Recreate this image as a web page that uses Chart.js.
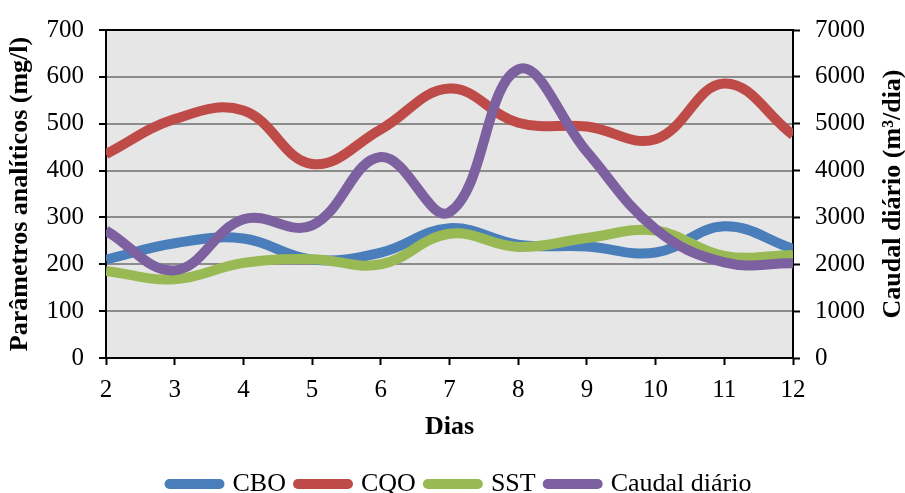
<!DOCTYPE html>
<html>
<head>
<meta charset="utf-8">
<script src="https://cdn.jsdelivr.net/npm/chart.js@4/dist/chart.umd.min.js"></script>
<style>
html,body{margin:0;padding:0;background:#fff;}
#wrap{width:905px;height:493px;position:relative;}
</style>
</head>
<body>
<div id="wrap"><canvas id="c" width="905" height="493"></canvas></div>
<script>
const dias = [2, 3, 4, 5, 6, 7, 8, 9, 10, 11, 12];
const cbo = [210, 245, 255, 210, 225, 277, 242, 238, 225, 281, 233];
const cqo = [435, 510, 528, 414, 488, 575, 502, 494, 467, 586, 476];
const sst = [186, 168, 203, 211, 200, 265, 237, 256, 272, 218, 220];
const caudal = [2720, 1870, 2960, 2830, 4290, 3110, 6160, 4400, 2750, 2040, 2020];
const leftTicks = [0, 100, 200, 300, 400, 500, 600, 700];
const rightTicks = [0, 1000, 2000, 3000, 4000, 5000, 6000, 7000];
const seriesNames = ['CBO', 'CQO', 'SST', 'Caudal diário'];
const seriesColors = ['#4A7EBB', '#BE4B48', '#98B954', '#7D60A0'];

const FONT = "'Liberation Serif', 'Times New Roman', serif";

function pts(arr){ return dias.map((d,i)=>({x:d, y:arr[i]})); }

const bgPlugin = {
  id: 'bg',
  afterUpdate(chart){
    if (chart.legend) { chart.legend.left += 8; chart.legend.right += 8; }
  },
  beforeDraw(chart){
    const a = chart.chartArea, ctx = chart.ctx;
    ctx.save();
    ctx.fillStyle = '#E6E6E6';
    ctx.fillRect(a.left, a.top, a.right - a.left, a.bottom - a.top);
    ctx.restore();
  },
  beforeDatasetsDraw(chart){
    const a = chart.chartArea, ctx = chart.ctx;
    ctx.save();
    ctx.strokeStyle = '#000';
    ctx.lineWidth = 2;
    ctx.beginPath();
    ctx.moveTo(a.left - 1, a.top);
    ctx.lineTo(a.right + 1, a.top);
    ctx.stroke();
    ctx.restore();
  },
  afterDraw(chart){
    const a = chart.chartArea, ctx = chart.ctx;
    ctx.save();
    ctx.fillStyle = '#000';
    ctx.font = 'bold 26px ' + FONT;
    ctx.textAlign = 'center';
    ctx.textBaseline = 'middle';
    ctx.translate(893, (a.top + a.bottom) / 2);
    ctx.rotate(-Math.PI / 2);
    ctx.fillText('Caudal diário (m³/dia)', 0, 0);
    ctx.restore();
  }
};

const mk = (i, data, axis, order) => ({
  label: seriesNames[i],
  data: pts(data),
  yAxisID: axis,
  borderColor: seriesColors[i],
  backgroundColor: seriesColors[i],
  borderWidth: 10,
  pointRadius: 0,
  pointHoverRadius: 0,
  tension: 0.4,
  fill: false,
  order: order,
  borderCapStyle: 'butt'
});

new Chart(document.getElementById('c'), {
  type: 'line',
  data: {
    datasets: [
      mk(0, cbo, 'y', 4),
      mk(1, cqo, 'y', 3),
      mk(2, sst, 'y', 2),
      mk(3, caudal, 'y1', 1)
    ]
  },
  options: {
    responsive: false,
    animation: false,
    layout: { padding: { top: 29, bottom: -14, left: 0, right: 0 } },
    plugins: {
      tooltip: { enabled: false },
      legend: {
        position: 'bottom',
        labels: {
          font: { family: FONT, size: 26 },
          color: '#000',
          usePointStyle: true,
          pointStyleWidth: 50,
          padding: 12,
          generateLabels(chart){
            return chart.data.datasets.map((ds, i) => ({
              text: ds.label,
              fillStyle: ds.borderColor,
              strokeStyle: ds.borderColor,
              lineWidth: 10,
              lineCap: 'round',
              pointStyle: 'line',
              hidden: false,
              datasetIndex: i,
              fontColor: '#000'
            }));
          }
        }
      }
    },
    scales: {
      x: {
        type: 'linear',
        min: 2, max: 12,
        afterBuildTicks(s){ s.ticks = dias.map(v => ({value: v})); },
        ticks: { font: { family: FONT, size: 25 }, color: '#000', padding: 10 },
        grid: { drawOnChartArea: false, drawTicks: true, tickLength: 7, tickColor: '#000', tickWidth: 2 },
        border: { color: '#000', width: 2 },
        title: { display: true, text: 'Dias', color: '#000', font: { family: FONT, size: 26, weight: 'bold' }, padding: { top: 10, bottom: 16 } },
        afterFit(s){ s.height = 101; }
      },
      y: {
        position: 'left',
        min: 0, max: 700,
        afterBuildTicks(s){ s.ticks = leftTicks.map(v => ({value: v})); },
        ticks: { font: { family: FONT, size: 25 }, color: '#000', padding: 15, callback: v => String(v) },
        grid: { color: '#8C8C8C', lineWidth: 2, tickLength: 7, tickColor: '#000', tickWidth: 2 },
        border: { color: '#000', width: 2 },
        title: { display: true, text: 'Parâmetros analíticos (mg/l)', color: '#000', font: { family: FONT, size: 26, weight: 'bold' }, padding: { top: 5, bottom: 0 } },
        afterFit(s){ s.width = 106; }
      },
      y1: {
        position: 'right',
        min: 0, max: 7000,
        afterBuildTicks(s){ s.ticks = rightTicks.map(v => ({value: v})); },
        ticks: { font: { family: FONT, size: 25 }, color: '#000', padding: 15, callback: v => String(v) },
        grid: { drawOnChartArea: false, tickLength: 7, tickColor: '#000', tickWidth: 2 },
        border: { color: '#000', width: 2 },
        afterFit(s){ s.width = 112; }
      }
    }
  },
  plugins: [bgPlugin]
});
</script>
</body>
</html>
